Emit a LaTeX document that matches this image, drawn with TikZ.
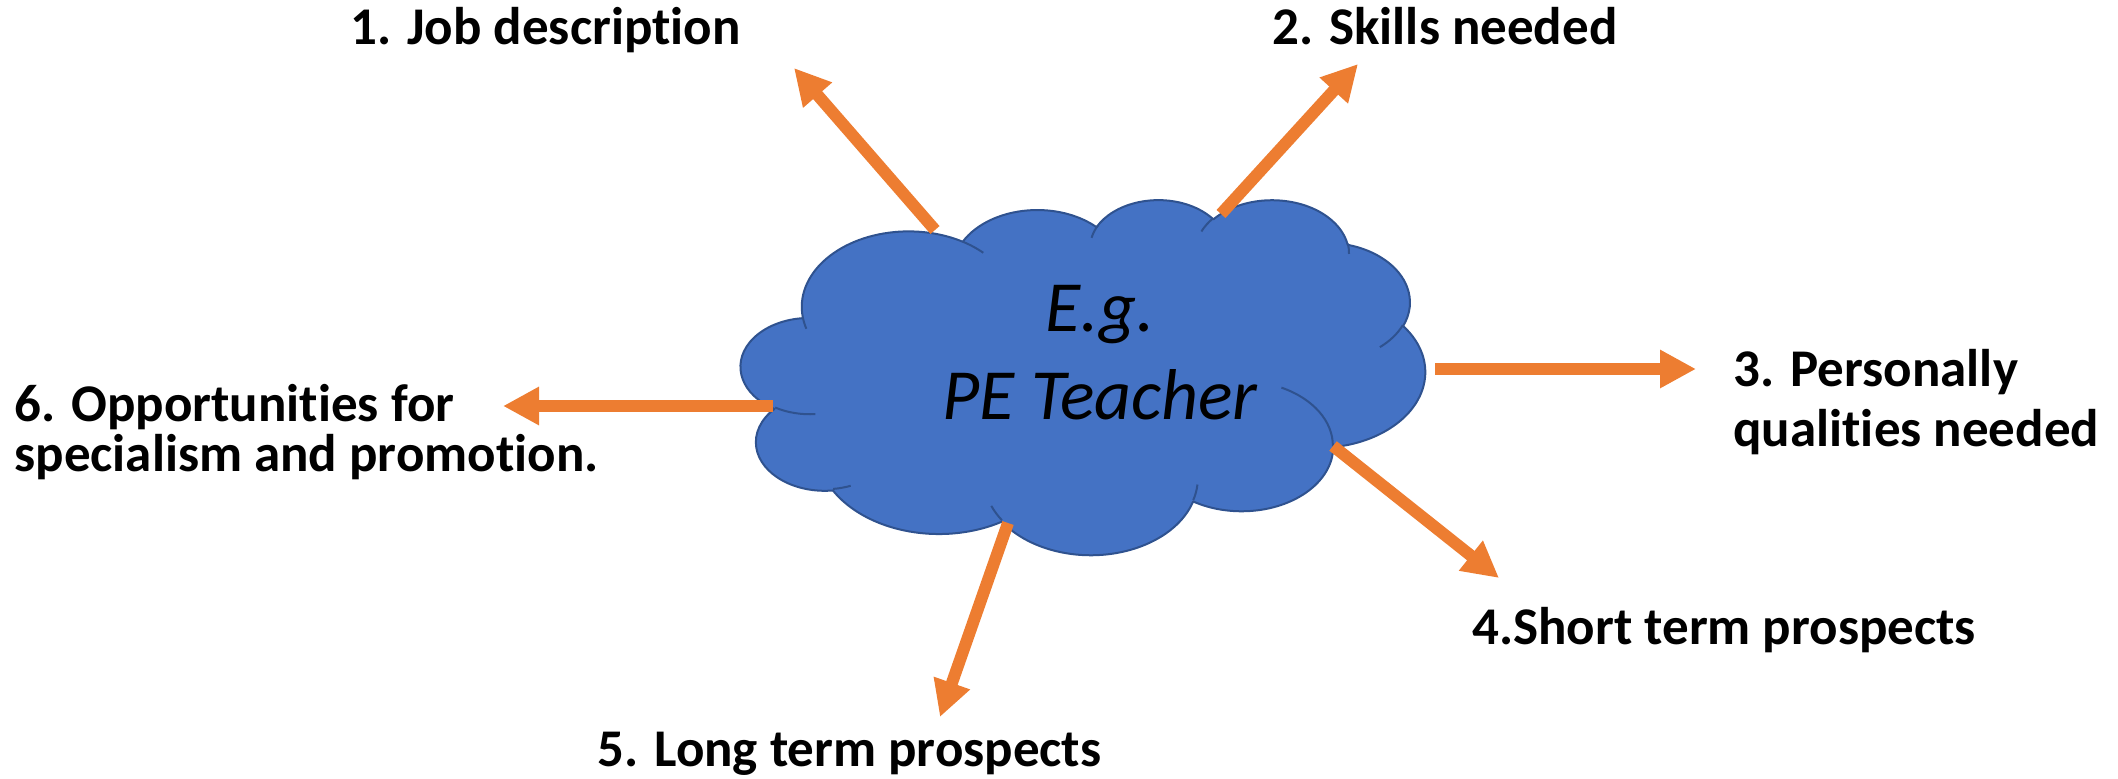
\documentclass[tikz,border=0pt]{standalone}
\usepackage{fontspec}
\setmainfont{Carlito}[Ligatures=CommonOff]
\usetikzlibrary{arrows.meta}
\definecolor{cloudfill}{HTML}{4472C4}
\definecolor{cloudline}{HTML}{2F528F}
\definecolor{spokeorange}{HTML}{ED7D31}

\begin{document}
\begin{tikzpicture}[x=0.5pt,y=-0.5pt,
  topic/.style={anchor=base west,inner sep=0pt,align=left,
    font=\fontsize{26.5}{30}\selectfont\bfseries},
  spoke/.style={draw=spokeorange,line width=6pt,
    -{Triangle[length=18pt,width=18pt]}}]
\useasboundingbox (0,0) rectangle (2118,779);
            % Cloud
\begin{scope}[shift={(741,199)},x=3.42pt,y=-1.775pt]
\filldraw[fill=cloudfill,draw=cloudline,line width=1pt,line join=round]
  (9.028,33.264)
  arc[start angle=-187.75,end angle=-59.64,x radius=15.632,y radius=21.273]
  arc[start angle=-152.04,end angle=-45.45,x radius=12.345,y radius=16.822]
  arc[start angle=-153.49,end angle=-37.30,x radius=10.104,y radius=13.762]
  arc[start angle=-139.72,end angle=-10.21,x radius=11.243,y radius=15.266]
  arc[start angle=-74.77,end angle=23.21,x radius=12.345,y radius=16.836]
  arc[start angle=-37.50,end angle=81.86,x radius=15.683,y radius=21.343]
  arc[start angle=0.46,end angle=121.98,x radius=13.391,y radius=18.211]
  arc[start angle=16.84,end angle=146.21,x radius=15.630,y radius=21.331]
  arc[start angle=58.98,end angle=150.19,x radius=17.870,y radius=24.405]
  arc[start angle=-276.69,end angle=-136.91,x radius=10.093,y radius=13.699]
  arc[start angle=-239.64,end angle=-95.89,x radius=10.058,y radius=13.762]
  -- cycle;
%inner folds
\draw[cloudline,line width=1pt]
  (10.863,60.595) arc[start angle=85.55,end angle=120.36,x radius=10.058,y radius=13.762]
  (16.037,80.785) arc[start angle=68.24,end angle=83.31,x radius=10.093,y radius=13.699]
  (38.144,90.486) arc[start angle=146.21,end angle=158.47,x radius=15.630,y radius=21.331]
  (66.729,80.442) arc[start angle=4.74,end angle=16.84,x radius=15.630,y radius=21.331]
  (79.002,53.134) arc[start angle=-64.03,end angle=0.46,x radius=13.391,y radius=18.211]
  (96.755,35.542) arc[start angle=23.21,end angle=49.65,x radius=12.345,y radius=16.836]
  (88.713,12.560) arc[start angle=-10.21,end angle=0.82,x radius=11.243,y radius=15.266]
  (67.310,9.148) arc[start angle=-156.29,end angle=-139.72,x radius=11.243,y radius=15.266]
  (51.252,10.926) arc[start angle=-167.73,end angle=-152.37,x radius=10.104,y radius=13.762]
  (32.407,12.019) arc[start angle=-59.64,end angle=-45.73,x radius=15.632,y radius=21.273]
  (9.553,36.549) arc[start angle=163.20,end angle=172.25,x radius=15.632,y radius=21.273];
\end{scope}
\node[anchor=base,align=center,inner sep=0pt,
  font=\fontsize{36}{44}\selectfont\itshape] (teacher) at (1100,420) {E.g.\\PE Teacher};
            % Topics
\node[topic] (job) at (350,45) {1. Job description};
\node[topic] (skills) at (1272,45) {2. Skills needed};
\node[topic] (qualities) at (1733,447) {3. Personally\\qualities needed};
\node[topic] (short) at (1472,644) {4.Short term prospects};
\node[topic] (long) at (597,766) {5. Long term prospects};
\node[topic,font=\fontsize{26.5}{25}\selectfont\bfseries] (promo) at (14,472)
  {6. Opportunities for\\specialism and promotion.};
%Spokes
\coordinate (a1) at (935,230);  \coordinate (b1) at (794,68);
\coordinate (a2) at (1221,214); \coordinate (b2) at (1358,64);
\coordinate (a3) at (1435,369); \coordinate (b3) at (1696,369);
\coordinate (a4) at (1333,446); \coordinate (b4) at (1499,578);
\coordinate (a5) at (1008,523); \coordinate (b5) at (940,717);
\coordinate (a6) at (773,406);  \coordinate (b6) at (503,406);
\draw[spoke] (a1) -- (b1);
\draw[spoke] (a2) -- (b2);
\draw[spoke] (a3) -- (b3);
\draw[spoke] (a4) -- (b4);
\draw[spoke] (a5) -- (b5);
\draw[spoke] (a6) -- (b6);
\end{tikzpicture}
\end{document}
